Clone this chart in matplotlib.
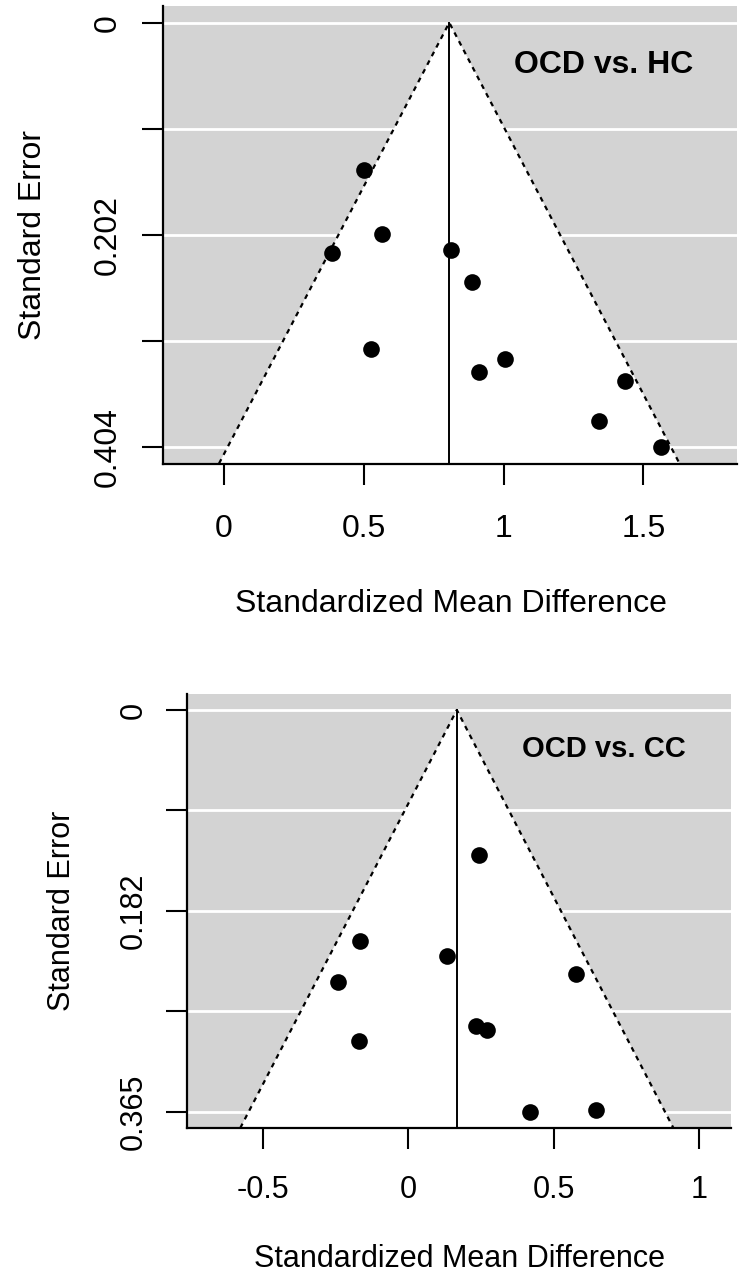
import matplotlib
matplotlib.use("Agg")
import matplotlib.pyplot as plt
import numpy as np

plt.rcParams['font.family'] = ['Liberation Sans', 'DejaVu Sans']
plt.rcParams['axes.unicode_minus'] = False

# OCD vs. HC
hc_smd = [0.502, 0.566, 0.385, 0.813, 0.889, 0.527, 1.007, 0.912, 1.436, 1.343, 1.563]
hc_se = [0.140, 0.201, 0.220, 0.217, 0.247, 0.311, 0.321, 0.333, 0.342, 0.380, 0.404]
hc_center = 0.806
hc_xticks = [0, 0.5, 1, 1.5]
hc_xticklabels = ["0", "0.5", "1", "1.5"]
hc_yticklabels = ["0", "", "0.202", "", "0.404"]

# OCD vs. CC
cc_smd = [0.244, -0.167, 0.132, 0.577, -0.241, 0.233, 0.270, -0.169, 0.419, 0.644]
cc_se = [0.132, 0.210, 0.223, 0.240, 0.247, 0.287, 0.291, 0.301, 0.365, 0.363]
cc_center = 0.167
cc_xticks = [-0.5, 0, 0.5, 1]
cc_xticklabels = ["-0.5", "0", "0.5", "1"]
cc_yticklabels = ["0", "", "0.182", "", "0.365"]

GRAY = "#d3d3d3"


def funnel(ax, smd, se, center, xlim, xticks, xticklabels, yticklabels, title,
           fs, title_fs, title_pos, xpad, ypad, ylab_x, xlab_xy):
    se_max = max(se)
    pad = 0.04 * se_max
    ybot = se_max + pad
    ax.set_facecolor(GRAY)
    ax.set_xlim(*xlim)
    ax.set_ylim(ybot, -pad)

    yt = np.linspace(0, se_max, 5)
    ax.set_yticks(yt)
    ax.set_yticklabels(yticklabels)
    ax.grid(axis='y', color='white', lw=2)
    ax.set_axisbelow(True)

    # white pseudo confidence region
    half = 1.96 * ybot
    ax.fill([center - half, center, center + half], [ybot, 0, ybot],
            color='white', lw=0, zorder=1)
    ax.plot([center - half, center, center + half], [ybot, 0, ybot],
            color='black', lw=1.6, ls=(0, (2.2, 2.2)), zorder=2)
    ax.plot([center, center], [0, ybot], color='black', lw=1.4, zorder=2)

    ax.plot(smd, se, 'o', color='black', ms=12, mew=0, zorder=3)

    ax.text(title_pos[0], title_pos[1], title, fontsize=title_fs,
            fontweight='bold', ha='center', va='baseline')

    ax.set_xticks(xticks)
    ax.set_xticklabels(xticklabels)
    for s in ['top', 'right']:
        ax.spines[s].set_visible(False)
    for s in ['left', 'bottom']:
        ax.spines[s].set_linewidth(1.6)
    ax.tick_params(axis='x', length=15, width=1.5, pad=xpad, labelsize=fs)
    ax.tick_params(axis='y', length=15, width=1.5, pad=ypad, labelsize=fs)
    plt.setp(ax.get_yticklabels(), rotation=90, va='center')

    ax.set_ylabel("Standard Error", fontsize=fs, va='baseline')
    ax.yaxis.set_label_coords(ylab_x, 0.5)
    ax.set_xlabel("Standardized Mean Difference", fontsize=fs, va='baseline')
    ax.xaxis.set_label_coords(*xlab_xy)


fig = plt.figure(figsize=(7.4, 12.77), dpi=100)
ax1 = fig.add_axes([162.7 / 740, 1 - 463.5 / 1277, (736.7 - 162.7) / 740, (463.5 - 5.7) / 1277])
ax2 = fig.add_axes([186.7 / 740, 1 - 1128 / 1277, (731 - 186.7) / 740, (1128 - 693.9) / 1277])

funnel(ax1, hc_smd, hc_se, hc_center, (-0.219, 1.834), hc_xticks, hc_xticklabels,
       hc_yticklabels, "OCD vs. HC", 23, 23, (1.357, 0.048), 21, 14,
       -0.2125, (0.5023, -0.3233))
funnel(ax2, cc_smd, cc_se, cc_center, (-0.761, 1.109), cc_xticks, cc_xticklabels,
       cc_yticklabels, "OCD vs. CC", 22, 21, (0.672, 0.043), 19, 12,
       -0.2144, (0.5012, -0.3202))

fig.savefig("out.png", dpi=100)
